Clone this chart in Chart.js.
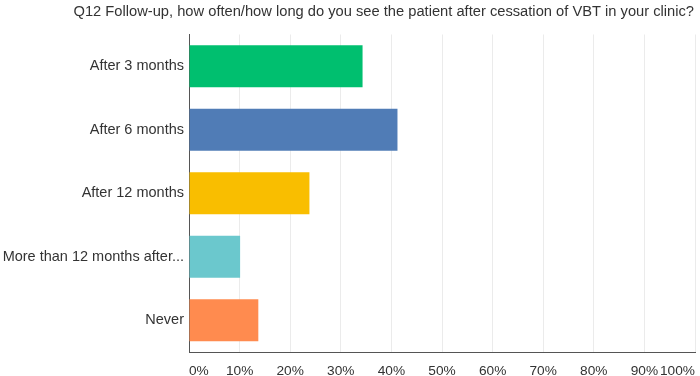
<!DOCTYPE html>
<html>
<head>
<meta charset="utf-8">
<script src="https://cdn.jsdelivr.net/npm/chart.js@4/dist/chart.umd.min.js"></script>
<style>
html,body{margin:0;padding:0;background:#fff;}
#wrap{width:700px;height:376px;position:relative;}
</style>
</head>
<body>
<div id="wrap"><canvas id="c" width="700" height="376"></canvas></div>
<script>
const titleText = "Q12 Follow-up, how often/how long do you see the patient after cessation of VBT in your clinic?";
const categories = ["After 3 months", "After 6 months", "After 12 months", "More than 12 months after...", "Never"];
const values = [34.3, 41.2, 23.8, 10.1, 13.7];
const barColors = ["#00BF6F", "#507CB6", "#F9BE00", "#6BC8CD", "#FF8B4F"];
const tickValues = [0, 10, 20, 30, 40, 50, 60, 70, 80, 90, 100];

const FONT = "'Liberation Sans', Arial, Helvetica, sans-serif";

const titlePlugin = {
  id: 'customTitle',
  afterDraw(chart) {
    const ctx = chart.ctx;
    ctx.save();
    ctx.font = "14.7px " + FONT;
    ctx.fillStyle = "#333333";
    ctx.textAlign = "right";
    ctx.textBaseline = "alphabetic";
    ctx.fillText(titleText, 694, 15.5);
    ctx.restore();
  }
};

new Chart(document.getElementById('c'), {
  type: 'bar',
  data: {
    labels: categories,
    datasets: [{
      data: values,
      backgroundColor: barColors,
      borderWidth: 0,
      barPercentage: 0.66,
      categoryPercentage: 1.0
    }]
  },
  options: {
    indexAxis: 'y',
    responsive: false,
    animation: false,
    devicePixelRatio: 1,
    layout: { padding: { top: 34.5, right: 5, left: 0, bottom: 0 } },
    plugins: { legend: { display: false }, title: { display: false }, tooltip: { enabled: false } },
    scales: {
      x: {
        min: 0, max: 100,
        afterBuildTicks(scale) { scale.ticks = tickValues.map(v => ({ value: v })); },
        afterFit(scale) { scale.height = 24; scale.paddingLeft = 0; scale.paddingRight = 0; },
        grid: { color: "#ebebeb", lineWidth: 1, drawTicks: false },
        border: { display: true, color: "#555555", width: 1 },
        ticks: {
          align: 'inner',
          padding: 11,
          color: "#333333",
          font: { family: FONT, size: 13.7 },
          callback: (v) => v + "%"
        }
      },
      y: {
        afterFit(scale) { scale.width = 189; scale.paddingTop = 0; scale.paddingBottom = 0; },
        grid: { display: false, drawTicks: false },
        border: { display: true, color: "#555555", width: 1 },
        ticks: {
          padding: 5,
          color: "#333333",
          font: { family: FONT, size: 14.5 }
        }
      }
    }
  },
  plugins: [titlePlugin]
});
</script>
</body>
</html>
